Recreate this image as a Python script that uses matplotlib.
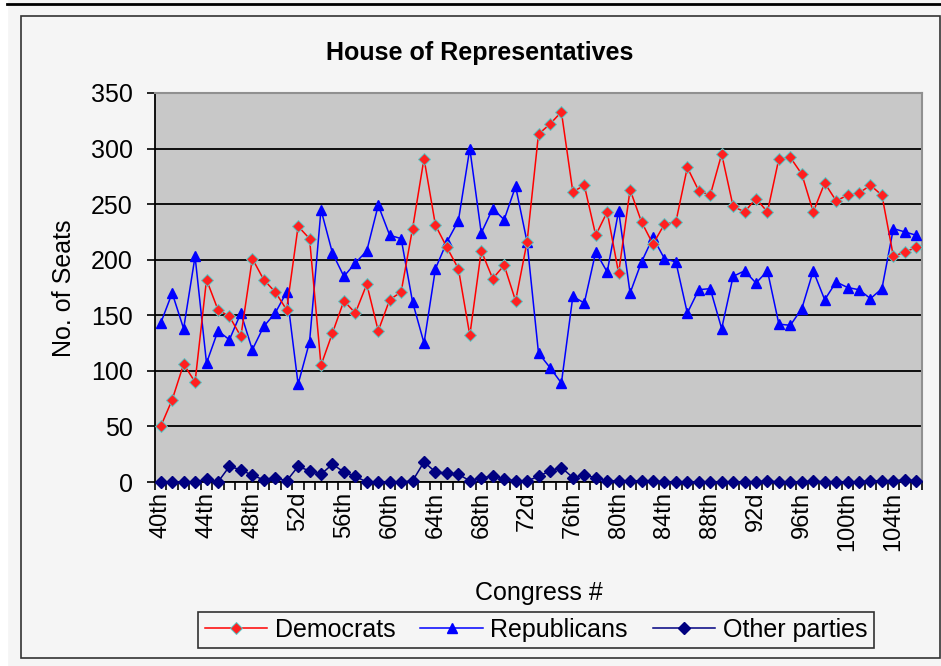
import matplotlib
matplotlib.use('Agg')
import matplotlib.pyplot as plt
from matplotlib.patches import Rectangle
from matplotlib.lines import Line2D
from matplotlib.ticker import FixedLocator

plt.rcParams['font.family'] = ['Liberation Sans', 'DejaVu Sans']

# 数据：第40届到第106届国会众议院席位
congress = list(range(40, 107))

democrats = [50, 74, 106, 90, 182, 155, 149, 131, 201, 182,
             171, 155, 230, 219, 105, 134, 163, 152, 178, 136,
             164, 171, 228, 291, 231, 211, 192, 132, 208, 183,
             195, 163, 216, 313, 322, 333, 261, 267, 222, 243,
             188, 263, 234, 214, 232, 234, 283, 262, 258, 295,
             248, 243, 255, 243, 291, 292, 277, 243, 269, 253,
             258, 260, 267, 258, 203, 207, 211]

republicans = [143, 170, 138, 203, 107, 136, 128, 152, 119, 140,
               152, 171, 88, 126, 245, 206, 185, 197, 208, 249,
               222, 219, 162, 125, 192, 216, 235, 300, 224, 246,
               236, 266, 216, 116, 103, 89, 167, 161, 207, 189,
               244, 170, 198, 220, 201, 198, 152, 173, 174, 138,
               185, 190, 179, 190, 142, 141, 156, 190, 164, 180,
               175, 173, 165, 174, 228, 225, 222]

others = [0, 0, 0, 0, 3, 0, 14, 11, 6, 2,
          4, 1, 14, 10, 7, 16, 9, 5, 0, 0,
          0, 0, 1, 18, 9, 8, 7, 1, 4, 5,
          3, 1, 1, 5, 10, 13, 4, 6, 4, 1,
          1, 1, 1, 1, 0, 0, 0, 0, 0, 0,
          0, 0, 0, 1, 0, 0, 0, 1, 0, 0,
          0, 0, 1, 1, 1, 2, 1]


def ordinal(n):
    # Excel原表用 "52d"、"72d" 这种写法
    if n % 10 in (2, 3) and n % 100 not in (12, 13):
        return str(n) + 'd'
    if n % 10 == 1 and n % 100 != 11:
        return str(n) + 'st'
    return str(n) + 'th'


labels = [ordinal(n) for n in congress]
x = list(range(len(congress)))

W, H = 941, 666
fig = plt.figure(figsize=(W / 100, H / 100), dpi=100, facecolor='#f5f5f5')

# 外框和顶部黑线
fig.patches.append(Rectangle((0, 0), 7 / W, 1, transform=fig.transFigure,
                             color='white', zorder=-1))
fig.lines.append(Line2D([7 / W, 1], [1 - 3.5 / H, 1 - 3.5 / H], lw=2,
                        color='black', transform=fig.transFigure))
fig.patches.append(Rectangle((21 / W, 1 - 658 / H), (940 - 21) / W, (658 - 16) / H,
                             transform=fig.transFigure, fill=False,
                             ec='#333333', lw=1.2))

ax = fig.add_axes([155 / W, 1 - 482 / H, (922 - 155) / W, (482 - 93) / H])
ax.set_facecolor('#c8c8c8')

ax.plot(x, democrats, color='#ff0000', lw=1.1, marker='D', ms=6.3,
        mfc='#ff2020', mec='#55c8c8', mew=0.7, label='Democrats', clip_on=False, zorder=4)
ax.plot(x, republicans, color='#0000ff', lw=1.1, marker='^', ms=7.5,
        mfc='#0000ff', mec='#0000ff', label='Republicans', clip_on=False, zorder=3)
ax.plot(x, others, color='#000080', lw=1.1, marker='D', ms=6.3,
        mfc='#000080', mec='#000080', label='Other parties', clip_on=False, zorder=5)

ax.set_xlim(-0.5, len(x) - 0.5)
ax.set_ylim(0, 350)
ax.set_yticks(range(0, 351, 50))
ax.grid(axis='y', color='black', lw=1.3)
ax.set_axisbelow(True)

for s in ['left', 'bottom']:
    ax.spines[s].set_color('black')
    ax.spines[s].set_linewidth(1.3)
for s in ['top', 'right']:
    ax.spines[s].set_color('#909090')
    ax.spines[s].set_linewidth(1.5)

ax.tick_params(axis='y', length=6, width=1.2, pad=10, labelsize=18)
ax.set_xticks(x[::4])
ax.set_xticklabels(labels[::4], rotation=90, fontsize=17)
ax.tick_params(axis='x', which='major', length=0, pad=7)
ax.xaxis.set_minor_locator(FixedLocator([i + 0.5 for i in range(-1, len(x))]))
ax.tick_params(axis='x', which='minor', length=6, width=1.2)

fig.text(480 / W, 1 - 53 / H, 'House of Representatives', ha='center', va='center',
         fontsize=18, fontweight='bold')
fig.text(64 / W, 1 - 288 / H, 'No. of Seats', ha='center', va='center',
         rotation=90, fontsize=18)
fig.text(539 / W, 1 - 593 / H, 'Congress #', ha='center', va='center', fontsize=18)

leg = fig.legend(loc='center', bbox_to_anchor=(536 / W, 1 - 630 / H), ncol=3,
                 frameon=True, fancybox=False, edgecolor='black', facecolor='#f5f5f5',
                 fontsize=18, handlelength=2.5, columnspacing=1.0, borderpad=0.25,
                 handletextpad=0.3)
leg.get_frame().set_linewidth(1.2)

plt.savefig('out.png', dpi=100, facecolor=fig.get_facecolor())
